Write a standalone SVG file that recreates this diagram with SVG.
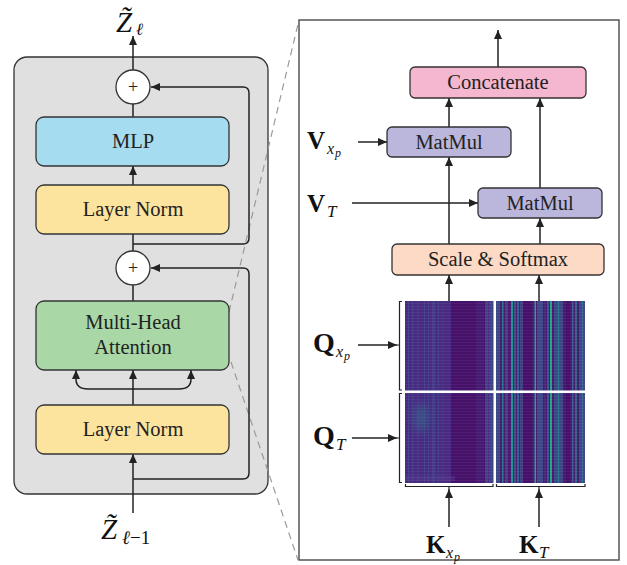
<svg xmlns="http://www.w3.org/2000/svg" width="627" height="565" viewBox="0 0 627 565">
<defs>
<marker id="ah" markerUnits="userSpaceOnUse" markerWidth="10" markerHeight="8" refX="9" refY="4" orient="auto">
<path d="M0,0 L9,4 L0,8 z" fill="#222"/>
</marker>
<pattern id="hl" width="4" height="3" patternUnits="userSpaceOnUse">
<rect width="4" height="1" fill="#ffffff" opacity="0.05"/>
</pattern>
<filter id="bl" x="-50%" y="-50%" width="200%" height="200%"><feGaussianBlur stdDeviation="4"/></filter>
</defs>
<style>
.box{stroke:#333;stroke-width:1.3}
.lbl{font-family:"Liberation Serif","Times New Roman",serif;font-size:20.5px;fill:#222;text-anchor:middle}
.m{font-family:"Liberation Serif","Times New Roman",serif;fill:#111}
.mb{font-weight:bold;font-size:25px}
.mi{font-style:italic}
.ln{fill:none;stroke:#222;stroke-width:1.5}
.ar{fill:none;stroke:#222;stroke-width:1.5;marker-end:url(#ah)}
.br{fill:none;stroke:#222;stroke-width:1.2}
.dash{fill:none;stroke:#9a9a9a;stroke-width:1.2;stroke-dasharray:7 5}
</style>
<rect width="627" height="565" fill="#ffffff"/>

<!-- left panel background -->
<rect id="block" x="14" y="57" width="254" height="437" rx="13" fill="#e0e0e0" stroke="#333" stroke-width="1.3"/>

<!-- zoom dashed lines -->
<g id="zoomlines">
<line class="dash" x1="229" y1="312" x2="299" y2="20"/>
<line class="dash" x1="231" y1="362" x2="298" y2="560"/>
</g>

<!-- right panel -->
<rect id="panel" x="299" y="20" width="320" height="540" fill="#ffffff" stroke="#555" stroke-width="1.5"/>

<g id="connectors">
<line class="ar" x1="133" y1="70" x2="133" y2="36"/>
<line class="ln" x1="133" y1="117" x2="133" y2="104"/>
<line class="ar" x1="133" y1="185" x2="133" y2="166"/>
<line class="ln" x1="133" y1="251" x2="133" y2="234"/>
<path class="ar" d="M133,244 H243 Q249,244 249,238 V93 Q249,87 243,87 H151"/>
<line class="ln" x1="133" y1="301" x2="133" y2="285"/>
<path class="ar" d="M133,479 H243 Q249,479 249,473 V274 Q249,268 243,268 H151"/>
<line class="ar" x1="133" y1="513" x2="133" y2="454"/>
<line class="ar" x1="133" y1="405" x2="133" y2="370"/>
<path class="ar" d="M133,389 H88 Q76,389 76,379 V370"/>
<path class="ar" d="M133,389 H179 Q191,389 191,379 V370"/>
<!-- right -->
<line class="ar" x1="498" y1="67" x2="498" y2="30"/>
<line class="ar" x1="449" y1="127" x2="449" y2="98"/>
<line class="ar" x1="540" y1="188" x2="540" y2="98"/>
<line class="ar" x1="449" y1="244" x2="449" y2="157"/>
<line class="ar" x1="540" y1="244" x2="540" y2="218"/>
<line class="ar" x1="449" y1="301" x2="449" y2="275"/>
<line class="ar" x1="539" y1="301" x2="539" y2="275"/>
<line class="ar" x1="358" y1="142" x2="387" y2="142"/>
<line class="ar" x1="352" y1="203" x2="478" y2="203"/>
<line class="ar" x1="358" y1="345" x2="397" y2="345"/>
<line class="ar" x1="352" y1="438" x2="397" y2="438"/>
<line class="ar" x1="449" y1="527" x2="449" y2="489"/>
<line class="ar" x1="539" y1="527" x2="539" y2="489"/>
</g>

<g id="add1"><circle cx="133" cy="87" r="17" fill="#fff" stroke="#333" stroke-width="1.3"/><text class="lbl" x="133" y="93" style="font-size:18px">+</text></g>
<g id="mlp"><rect class="box" x="36" y="117" width="193" height="49" rx="8" fill="#a6dcef"/><text class="lbl" x="133" y="148">MLP</text></g>
<g id="ln1"><rect class="box" x="36" y="185" width="193" height="49" rx="8" fill="#fde49e"/><text class="lbl" x="133" y="216">Layer Norm</text></g>
<g id="add2"><circle cx="133" cy="268" r="17" fill="#fff" stroke="#333" stroke-width="1.3"/><text class="lbl" x="133" y="274" style="font-size:18px">+</text></g>
<g id="mha"><rect class="box" x="36" y="301" width="193" height="69" rx="8" fill="#a9d8a6"/><text class="lbl" x="133" y="329">Multi-Head</text><text class="lbl" x="133" y="354">Attention</text></g>
<g id="ln2"><rect class="box" x="36" y="405" width="193" height="49" rx="8" fill="#fde49e"/><text class="lbl" x="133" y="436">Layer Norm</text></g>

<g id="concat"><rect class="box" x="410" y="67" width="176" height="31" rx="5" fill="#f4b7cf"/><text class="lbl" x="498" y="89">Concatenate</text></g>
<g id="matmul1"><rect class="box" x="387" y="127" width="124" height="30" rx="5" fill="#bab6dc"/><text class="lbl" x="449" y="149">MatMul</text></g>
<g id="matmul2"><rect class="box" x="478" y="188" width="124" height="30" rx="5" fill="#bab6dc"/><text class="lbl" x="540" y="210">MatMul</text></g>
<g id="softmax"><rect class="box" x="392" y="244" width="212" height="31" rx="5" fill="#fcdac6"/><text class="lbl" x="498" y="266">Scale &amp; Softmax</text></g>

<!-- heatmap -->
<g id="heatmap">
<rect x="405" y="301" width="180" height="182" fill="#471a70"/>
<rect x="405" y="301" width="46" height="182" fill="#4b2d85" opacity="0.85"/>
<rect x="408" y="301" width="1" height="182" fill="#3f4b8c" opacity="0.7"/>
<rect x="412" y="301" width="1.5" height="182" fill="#3f4b8c" opacity="0.6"/>
<rect x="417" y="301" width="2" height="182" fill="#433c88" opacity="0.7"/>
<rect x="424" y="301" width="1" height="182" fill="#3e4c8c" opacity="0.7"/>
<rect x="428" y="301" width="1" height="182" fill="#3e4c8c" opacity="0.6"/>
<rect x="432" y="301" width="3" height="182" fill="#424189" opacity="0.8"/>
<rect x="438" y="301" width="1" height="182" fill="#3e4c8c" opacity="0.6"/>
<rect x="442" y="301" width="2" height="182" fill="#45367f" opacity="0.7"/>
<rect x="451" y="301" width="34" height="182" fill="#460f68" opacity="0.8"/>
<rect x="476" y="301" width="8" height="182" fill="#48227a" opacity="0.6"/>
<rect x="485" y="301" width="9" height="182" fill="#3f4a8c" opacity="0.85"/>
<rect x="488" y="301" width="1" height="182" fill="#4a2c84"/>
<ellipse cx="421" cy="418" rx="7" ry="14" fill="#2f6e8e" opacity="0.55" filter="url(#bl)"/>
<rect x="405" y="476" width="50" height="5" fill="#5a3e92" opacity="0.4"/>
<!-- right half stripes -->
<rect x="496" y="301" width="4" height="182" fill="#3b528b" opacity="0.85"/>
<rect x="502" y="301" width="1.5" height="182" fill="#2c738e"/>
<rect x="505" y="301" width="3" height="182" fill="#433d86"/>
<rect x="511" y="301" width="2" height="182" fill="#22908c"/>
<rect x="514" y="301" width="2" height="182" fill="#3c4f8b"/>
<rect x="517" y="301" width="2" height="182" fill="#355e8d"/>
<rect x="520" y="301" width="3" height="182" fill="#433e86"/>
<rect x="523" y="301" width="9" height="182" fill="#46106a"/>
<rect x="534.5" y="301" width="1.5" height="182" fill="#21a08a"/>
<rect x="537" y="301" width="6" height="182" fill="#3f478a"/>
<rect x="544" y="301" width="2" height="182" fill="#482878"/>
<rect x="547" y="301" width="2" height="182" fill="#3b528b"/>
<rect x="550" y="301" width="2" height="182" fill="#20a386"/>
<rect x="554" y="301" width="9" height="182" fill="#3b528b" opacity="0.8"/>
<rect x="558" y="301" width="1" height="182" fill="#2a788e"/>
<rect x="566" y="301" width="4" height="182" fill="#460f68"/>
<rect x="572" y="301" width="1.5" height="182" fill="#355e8d"/>
<rect x="575" y="301" width="2" height="182" fill="#2c738e" opacity="0.8"/>
<rect x="579" y="301" width="6" height="182" fill="#414488"/>
<rect x="582" y="301" width="1" height="182" fill="#2f6b8e"/>
<rect x="405" y="301" width="180" height="182" fill="url(#hl)"/>
<rect x="493.5" y="301" width="2.5" height="182" fill="#ffffff"/>
<rect x="405" y="390.5" width="180" height="2.5" fill="#ffffff"/>
</g>

<g id="brackets">
<path class="br" d="M402,301.5 H399.5 V390 H402 M399.5,345 H397"/>
<path class="br" d="M402,393.5 H399.5 V482.5 H402 M399.5,438 H397"/>
<path class="br" d="M405.5,484 V486.5 H493 V484 M449,486.5 V489"/>
<path class="br" d="M496.5,484 V486.5 H585 V484 M539,486.5 V489"/>
</g>

<g id="labels">
<text class="m" x="116" y="32" style="font-size:29px;font-style:italic">Z̃</text>
<text class="m mi" x="136" y="35" style="font-size:17px">ℓ</text>
<text class="m" x="101" y="539" style="font-size:29px;font-style:italic">Z̃</text>
<text class="m" x="122" y="544" style="font-size:19px"><tspan font-style="italic">ℓ</tspan>−1</text>

<text class="m mb" x="307" y="149">V</text>
<text class="m mi" x="327" y="154" style="font-size:16px">x</text>
<text class="m mi" x="335" y="157" style="font-size:12px">p</text>
<text class="m mb" x="307" y="212">V</text>
<text class="m mi" x="327" y="217" style="font-size:17px">T</text>

<text class="m mb" x="313" y="352" style="font-size:28px">Q</text>
<text class="m mi" x="336" y="357" style="font-size:16px">x</text>
<text class="m mi" x="344" y="360" style="font-size:12px">p</text>
<text class="m mb" x="313" y="445" style="font-size:28px">Q</text>
<text class="m mi" x="336" y="450" style="font-size:17px">T</text>

<text class="m mb" x="426" y="553">K</text>
<text class="m mi" x="446" y="558" style="font-size:16px">x</text>
<text class="m mi" x="454" y="561" style="font-size:12px">p</text>
<text class="m mb" x="519" y="553">K</text>
<text class="m mi" x="539" y="558" style="font-size:17px">T</text>
</g>
</svg>
